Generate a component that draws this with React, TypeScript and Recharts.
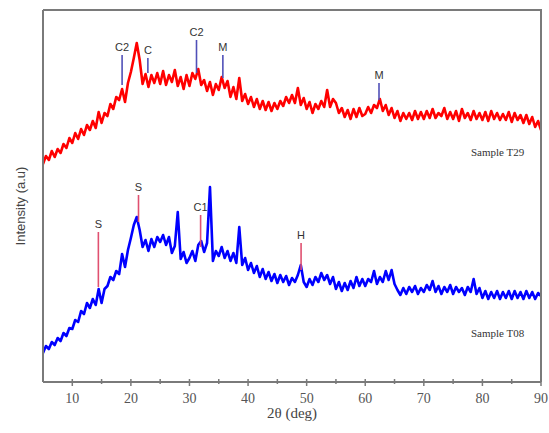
import React from 'react';
import { LineChart, Line, XAxis, YAxis, ReferenceLine, ReferenceDot } from 'recharts';

// 2θ (deg) from 5 to 90 in 0.5° steps
const twoTheta: number[] = Array.from({ length: 171 }, (_, i) => 5 + i * 0.5);

// Sample T29 intensity (a.u.)
const t29: number[] = [
  222, 230, 226, 235, 229, 237, 233, 242, 238, 248,
  243, 253, 247, 257, 251, 261, 256, 265, 258, 274,
  263, 273, 270, 282, 277, 289, 286, 297, 284, 303,
  314, 328, 343, 326, 302, 312, 299, 311, 303, 313,
  302, 315, 301, 311, 304, 316, 300, 309, 297, 311,
  300, 313, 307, 317, 301, 306, 295, 304, 291, 302,
  296, 309, 298, 305, 289, 299, 287, 308, 285, 292,
  282, 289, 279, 287, 277, 285, 276, 284, 275, 283,
  277, 285, 280, 289, 283, 291, 283, 298, 281, 288,
  277, 284, 273, 282, 277, 285, 279, 296, 279, 287,
  283, 273, 278, 269, 276, 267, 277, 269, 278, 270,
  272, 279, 273, 281, 278, 287, 275, 281, 271, 278,
  268, 275, 265, 273, 267, 273, 266, 275, 267, 274,
  267, 275, 268, 277, 268, 273, 270, 278, 267, 274,
  267, 275, 265, 277, 268, 273, 266, 275, 267, 273,
  266, 274, 265, 275, 267, 273, 266, 272, 266, 274,
  264, 273, 266, 271, 263, 271, 262, 269, 259, 265,
  256,
];

// Sample T08 intensity (a.u.)
const t08: number[] = [
  33, 40, 37, 44, 41, 48, 45, 53, 50, 58,
  57, 66, 64, 75, 72, 83, 78, 87, 81, 97,
  83, 97, 100, 109, 106, 115, 112, 132, 119, 136,
  148, 161, 169, 156, 139, 146, 135, 147, 139, 149,
  144, 151, 141, 149, 133, 140, 174, 127, 134, 123,
  128, 135, 125, 141, 145, 134, 143, 199, 125, 135,
  130, 139, 128, 135, 125, 133, 123, 159, 121, 128,
  116, 123, 113, 120, 109, 117, 107, 114, 105, 112,
  103, 111, 104, 110, 101, 108, 104, 111, 121, 104,
  99, 107, 101, 109, 104, 113, 106, 111, 102, 109,
  97, 104, 95, 103, 96, 105, 98, 109, 100, 107,
  100, 107, 104, 115, 102, 109, 104, 115, 106, 116,
  102, 96, 91, 98, 92, 99, 94, 100, 92, 98,
  94, 101, 96, 105, 94, 100, 92, 99, 94, 101,
  92, 99, 94, 98, 91, 99, 94, 107, 92, 98,
  88, 95, 87, 94, 88, 95, 87, 94, 88, 95,
  87, 95, 88, 94, 87, 95, 88, 94, 87, 93,
  90,
];

const xTicks: number[] = [10, 15, 20, 25, 30, 35, 40, 45, 50, 55, 60, 65, 70, 75, 80, 85, 90];
const xDomain: [number, number] = [5, 90];
const yDomain: [number, number] = [4, 376];

// Phase markers
const t29MarkX: number[] = [18.5, 22.9, 31.2, 35.7, 62.35];
const t29MarkLo: number[] = [301, 313, 313, 308, 286];
const t29MarkHi: number[] = [331, 328, 346, 331, 303];
const t29MarkLabel: string[] = ['C2', 'C', 'C2', 'M', 'M'];

const t08MarkX: number[] = [14.45, 21.3, 31.9, 49.05];
const t08MarkLo: number[] = [99, 164, 139, 116];
const t08MarkHi: number[] = [154, 191, 171, 143];
const t08MarkLabel: string[] = ['S', 'S', 'C1', 'H'];

const data = twoTheta.map((x, i) => ({ x, t29: t29[i], t08: t08[i] }));

const AXIS = '#7a7a7a';
const CHART_W = 549;
const CHART_H = 433;
const MARGIN = { top: 10, right: 8, bottom: 0, left: 13 };
const X_AXIS_H = 51;
const PLOT_H = CHART_H - MARGIN.top - MARGIN.bottom - X_AXIS_H;

const XTick = (props: any) => {
  const { x, y, payload } = props;
  const major = payload.value % 10 === 0;
  return (
    <g>
      <line x1={x} x2={x} y1={y - 3} y2={y + (major ? 4 : 2)} stroke={AXIS} strokeWidth={1.5} />
      {major && (
        <text x={x} y={y + 21} textAnchor="middle" fontFamily="'Liberation Serif', serif" fontSize={14} fill="#555">
          {payload.value}
        </text>
      )}
    </g>
  );
};

const YLabel = (props: any) => {
  const vb = props.viewBox || { x: 13, y: 10, width: 30, height: 372 };
  const cx = vb.x + 7;
  const cy = vb.y + vb.height / 2 + 10;
  return (
    <text
      x={cx}
      y={cy}
      transform={`rotate(-90, ${cx}, ${cy})`}
      textAnchor="middle"
      dominantBaseline="central"
      fontFamily="'Liberation Sans', Arial, sans-serif"
      fontSize={13}
      fill="#444"
    >
      Intensity (a.u)
    </text>
  );
};

// X-axis title; also closes the plot box with its top and right edges
const XLabel = (props: any) => {
  const vb = props.viewBox || { x: 43, y: 382, width: 498, height: 51 };
  const left = vb.x;
  const right = vb.x + vb.width;
  const bottom = vb.y;
  const top = vb.y - PLOT_H;
  return (
    <g>
      <path
        d={`M${left},${top} L${right},${top} L${right},${bottom}`}
        fill="none"
        stroke={AXIS}
        strokeWidth={2}
      />
      <text
        x={left + vb.width / 2}
        y={bottom + 36}
        textAnchor="middle"
        fontFamily="'Liberation Serif', serif"
        fontSize={15}
        fill="#444"
      >
        2θ (deg)
      </text>
    </g>
  );
};

const markLabelStyle = {
  fontFamily: "'Liberation Sans', Arial, sans-serif",
  fontSize: 11,
  fill: '#333',
};

export default function App() {
  return (
    <div style={{ position: 'absolute', left: 0, top: 0, width: CHART_W, height: CHART_H, background: '#fff' }}>
      <LineChart width={CHART_W} height={CHART_H} data={data} margin={MARGIN}>
        <XAxis
          dataKey="x"
          type="number"
          domain={xDomain}
          ticks={xTicks}
          interval={0}
          tickSize={0}
          tickMargin={0}
          tickLine={false}
          tick={<XTick />}
          height={X_AXIS_H}
          axisLine={{ stroke: AXIS, strokeWidth: 2 }}
          label={<XLabel />}
          allowDataOverflow
        />
        <YAxis
          type="number"
          domain={yDomain}
          tick={false}
          tickLine={false}
          width={30}
          axisLine={{ stroke: AXIS, strokeWidth: 2 }}
          label={<YLabel />}
          allowDataOverflow
        />
        <Line
          dataKey="t29"
          stroke="#ff0000"
          strokeWidth={2.6}
          strokeLinejoin="round"
          dot={false}
          isAnimationActive={false}
          type="linear"
        />
        <Line
          dataKey="t08"
          stroke="#0000ff"
          strokeWidth={2.6}
          strokeLinejoin="round"
          dot={false}
          isAnimationActive={false}
          type="linear"
        />
        {t29MarkX.map((x, i) => (
          <ReferenceLine
            key={`r${i}`}
            segment={[{ x, y: t29MarkLo[i] }, { x, y: t29MarkHi[i] }]}
            stroke="#5050b8"
            strokeWidth={1.6}
            label={{ value: t29MarkLabel[i], position: 'top', offset: 4, ...markLabelStyle }}
          />
        ))}
        {t08MarkX.map((x, i) => (
          <ReferenceLine
            key={`b${i}`}
            segment={[{ x, y: t08MarkLo[i] }, { x, y: t08MarkHi[i] }]}
            stroke="#e05070"
            strokeWidth={1.6}
            label={{ value: t08MarkLabel[i], position: 'top', offset: 4, ...markLabelStyle }}
          />
        ))}
        <ReferenceDot
          x={82.6}
          y={234}
          r={0}
          stroke="none"
          fill="none"
          label={{ value: 'Sample T29', position: 'center', fontFamily: "'Liberation Serif', serif", fontSize: 11, fill: '#333' }}
        />
        <ReferenceDot
          x={82.6}
          y={53}
          r={0}
          stroke="none"
          fill="none"
          label={{ value: 'Sample T08', position: 'center', fontFamily: "'Liberation Serif', serif", fontSize: 11, fill: '#333' }}
        />
      </LineChart>
    </div>
  );
}
